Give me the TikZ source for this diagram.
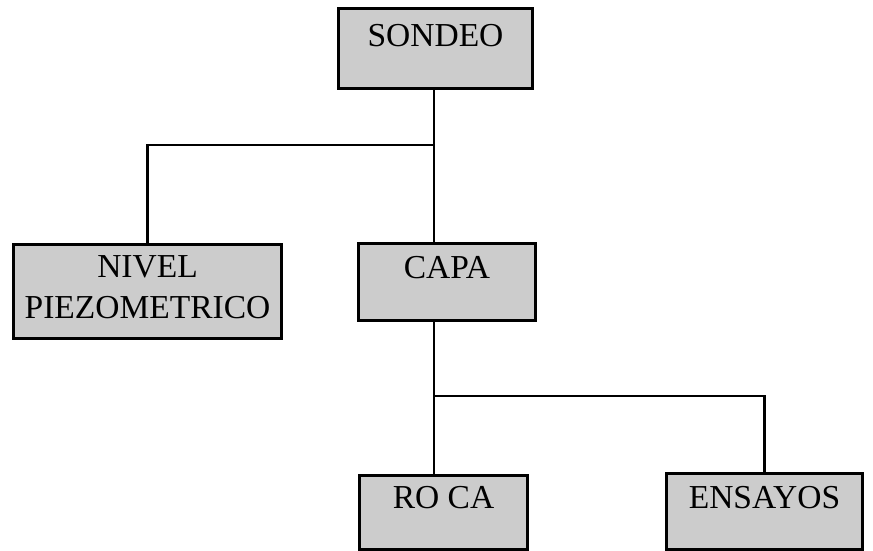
\documentclass[tikz,border=0pt]{standalone}
\usepackage{fontspec}
\setmainfont{Liberation Serif}
\begin{document}
\begin{tikzpicture}[x=1pt,y=-1pt,
  box/.style={draw=black, line width=3pt, fill=black!20, inner xsep=0pt, inner ysep=0pt,
    anchor=north west, align=center, font=\fontsize{33.5}{41}\selectfont},
  conn/.style={line width=2.2pt}]
\useasboundingbox (0,0) rectangle (873,550);
\node[box, minimum width=194pt, text height=38pt, text depth=42pt] (sondeo) at (337,7) {SONDEO};
\node[box, minimum width=268pt, text height=74pt, text depth=20pt] (nivel) at (12,243) {NIVEL\\PIEZOMETRICO};
\node[box, minimum width=177pt, text height=35pt, text depth=42pt] (capa) at (357,242) {CAPA};
\node[box, minimum width=168pt, text height=33pt, text depth=41pt] (roca) at (358,474) {RO CA};
\node[box, minimum width=196pt, text height=35pt, text depth=41pt] (ensayos) at (665,472) {ENSAYOS};
\coordinate (j1) at (434,145);
\coordinate (j2) at (434,396);
\draw[conn] (sondeo.south -| j1) -- (j1) -- (capa.north -| j1);
\draw[conn] (j1) -| (nivel.north);
\draw[conn] (capa.south -| j2) -- (j2) -| (ensayos.north);
\draw[conn] (j2) -- (roca.north -| j2);
\end{tikzpicture}
\end{document}
